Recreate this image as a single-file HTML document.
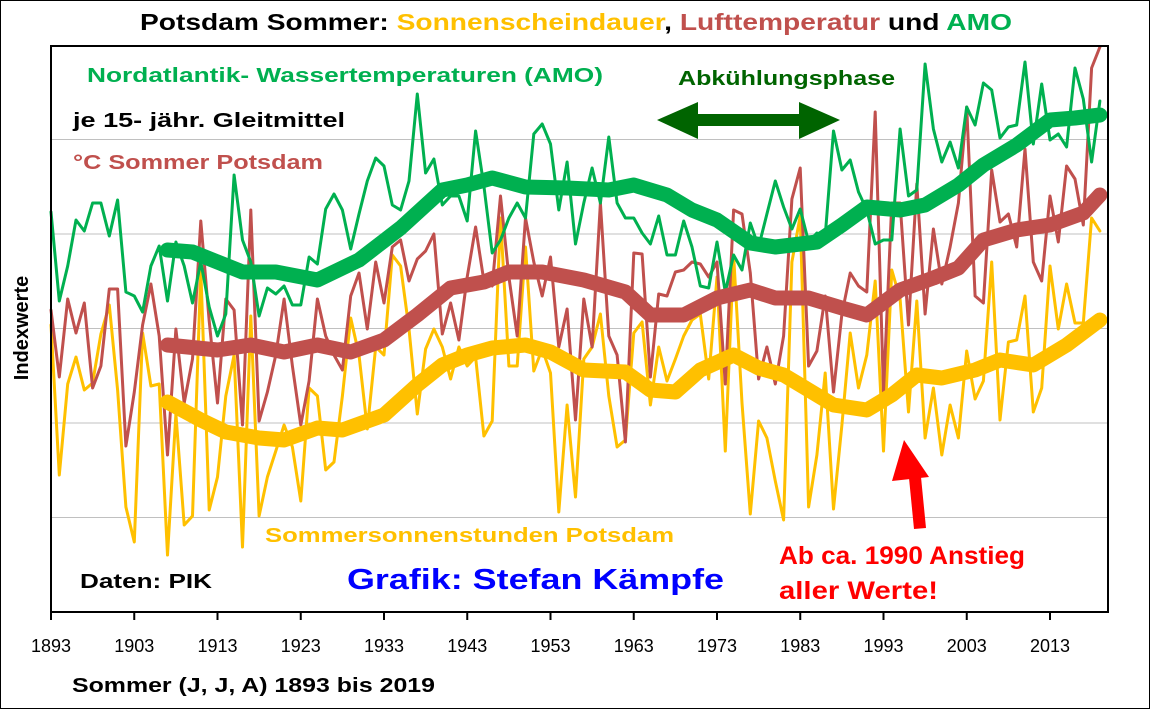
<!DOCTYPE html>
<html><head><meta charset="utf-8"><style>
body{margin:0;background:#fff;}
svg{display:block;font-family:"Liberation Sans",Arial,sans-serif;font-weight:bold;}
</style></head><body>
<svg id="chart" width="1150" height="709" viewBox="0 0 1150 709">
<rect x="0.5" y="0.5" width="1149" height="708" fill="#fff" stroke="#000" stroke-width="1"/>
<text x="140" y="30" textLength="872" lengthAdjust="spacingAndGlyphs" font-size="23"><tspan fill="#000">Potsdam Sommer: </tspan><tspan fill="#ffc000">Sonnenscheindauer</tspan><tspan fill="#000">, </tspan><tspan fill="#c0504d">Lufttemperatur</tspan><tspan fill="#000"> und </tspan><tspan fill="#00b050">AMO</tspan></text>
<g id="grid"></g>
<g id="series"></g>
<rect x="51" y="46" width="1057" height="566" fill="none" stroke="#000" stroke-width="2"/>
<g id="xaxis"></g>
<text transform="translate(28,328) rotate(-90)" text-anchor="middle" font-size="20" fill="#000">Indexwerte</text>
<text x="72" y="692" textLength="363" lengthAdjust="spacingAndGlyphs" font-size="20" fill="#000">Sommer (J, J, A) 1893 bis 2019</text>
<text x="87" y="82" textLength="516" lengthAdjust="spacingAndGlyphs" font-size="20" fill="#00b050">Nordatlantik- Wassertemperaturen (AMO)</text>
<text x="73" y="127" textLength="272" lengthAdjust="spacingAndGlyphs" font-size="20" fill="#000">je 15- jähr. Gleitmittel</text>
<text x="73" y="169" textLength="250" lengthAdjust="spacingAndGlyphs" font-size="20" fill="#c0504d">°C Sommer Potsdam</text>
<text x="678" y="85" textLength="217" lengthAdjust="spacingAndGlyphs" font-size="20" fill="#006400">Abkühlungsphase</text>
<g fill="#006400">
<rect x="690" y="114" width="115" height="12"/>
<polygon points="657,120 698,102 698,139"/>
<polygon points="840,120 799,102 799,139"/>
</g>
<text x="265" y="542" textLength="409" lengthAdjust="spacingAndGlyphs" font-size="20" fill="#ffc000">Sommersonnenstunden Potsdam</text>
<text x="80" y="588" textLength="132" lengthAdjust="spacingAndGlyphs" font-size="20" fill="#000">Daten: PIK</text>
<text x="347" y="589" textLength="377" lengthAdjust="spacingAndGlyphs" font-size="29" fill="#0000ff">Grafik: Stefan Kämpfe</text>
<text x="779" y="564" textLength="246" lengthAdjust="spacingAndGlyphs" font-size="25" fill="#ff0000">Ab ca. 1990 Anstieg</text>
<text x="779" y="599" textLength="159" lengthAdjust="spacingAndGlyphs" font-size="25" fill="#ff0000">aller Werte!</text>
<g fill="#ff0000">
<polygon points="909,478 921,477 926,528 914,529"/>
<polygon points="904,440 929,477 892,481"/>
</g>
</svg>
<script>
const years = [];
for (let yr = 1893; yr <= 2019; yr++) years.push(yr);
const tickYears = [1893,1903,1913,1923,1933,1943,1953,1963,1973,1983,1993,2003,2013];
const gridValues = [94.5,189,283.5,378,472.5];
const amoRaw = [400,311,346,392,381,409,409,376,412,320,316,300,346,366,311,370,346,309,350,305,276,298,437,372,350,296,324,318,326,307,307,355,348,403,418,402,363,398,431,454,446,407,
402,431,518,439,453,407,416,416,391,481,426,359,372,394,409,394,478,488,468,402,450,368,409,444,409,475,409,394,394,379,368,396,357,357,391,365,326,324,370,320,357,342,
389,365,398,431,405,383,403,370,379,376,481,442,452,420,402,368,372,372,483,416,422,548,483,450,470,444,505,487,529,522,474,485,487,550,468,528,472,478,465,544,513,450,511];
const tempRaw = [302,235,313,279,309,224,246,323,323,166,220,287,328,276,157,283,209,253,391,291,209,313,302,187,402,191,220,257,313,246,187,231,313,276,257,242,316,339,283,350,309,365,
372,331,353,361,378,278,309,272,335,385,331,326,416,335,276,394,350,316,355,265,303,192,313,265,409,276,257,170,359,358,235,318,316,340,342,350,348,335,350,228,402,398,
339,233,265,228,276,413,444,246,261,316,220,298,339,326,320,500,220,409,409,287,428,298,383,328,365,409,505,316,309,442,390,398,365,463,350,331,416,370,446,433,387,544,565];
const sunRaw = [287,137,228,255,222,229,278,307,222,105,70,279,226,228,57,198,87,96,342,102,135,216,257,65,296,96,135,161,187,165,111,224,216,142,150,216,294,257,183,265,257,357,
346,283,198,263,283,265,233,265,246,255,176,191,394,246,246,365,241,263,239,100,207,115,253,265,298,216,165,172,279,290,207,265,231,253,276,292,298,233,335,161,357,209,
98,191,174,131,92,350,396,105,157,239,103,187,279,224,257,331,161,342,313,200,311,174,224,157,207,174,261,213,231,350,192,270,272,316,200,224,346,283,328,289,289,394,381];
const amoSmoothYears = [1907,1910,1913,1916,1920,1925,1930,1935,1940,1943,1946,1950,1955,1960,1963,1967,1970,1973,1977,1980,1985,1988,1991,1995,1998,2002,2005,2009,2013,2016,2019];
const amoSmooth = [362,360,350,340,340,332,352,384,422,427,434,425,424,422,427,417,402,392,369,365,370,387,405,402,407,427,447,467,492,494,497];
const tempSmoothYears = [1907,1913,1917,1921,1925,1929,1933,1937,1941,1945,1948,1952,1957,1962,1965,1969,1973,1977,1980,1984,1988,1991,1995,1999,2002,2005,2009,2013,2017,2019];
const tempSmooth = [267,262,267,260,267,260,272,297,324,330,340,340,332,320,297,297,314,322,314,314,304,297,322,334,344,372,382,387,399,417];
const sunSmoothYears = [1907,1911,1914,1918,1921,1925,1928,1933,1937,1940,1943,1946,1950,1953,1957,1962,1965,1968,1971,1975,1978,1981,1984,1987,1991,1994,1997,2000,2004,2007,2011,2015,2019];
const sunSmooth = [210,192,180,174,172,184,182,197,227,247,257,264,267,260,242,240,222,220,242,257,244,237,222,207,202,217,237,234,242,252,247,267,292];

const NS = 'http://www.w3.org/2000/svg';
const X0 = 51, X1 = 1108, Y0 = 612, Y1 = 45;
const xScale = yr => X0 + (yr - 1893) * 8.325;
const yScale = v => Y0 - (v / 567) * (Y0 - Y1);
function mk(tag, attrs, parent) {
  const el = document.createElementNS(NS, tag);
  for (const k in attrs) el.setAttribute(k, attrs[k]);
  parent.appendChild(el);
  return el;
}
const grid = document.getElementById('grid');
gridValues.forEach(v => {
  const ln = mk('line', {x1: X0, x2: X1, y1: yScale(v), y2: yScale(v), stroke: '#c0c0c0', 'stroke-width': 1}, grid);
  
  
});
const xa = document.getElementById('xaxis');
tickYears.forEach(yr => {
  const t = mk('line', {x1: xScale(yr), x2: xScale(yr), y1: Y0, y2: Y0 + 8, stroke: '#000', 'stroke-width': 2}, xa);
  
  
  const tx = mk('text', {x: xScale(yr), y: 652, 'text-anchor': 'middle', 'font-size': 18, 'font-weight': 'normal', fill: '#000'}, xa);
  tx.textContent = yr;
  
  
});
const sg = document.getElementById('series');
function drawLine(xs, vs, color, width, name) {
  const pts = xs.map((yr, i) => xScale(yr).toFixed(1) + ',' + yScale(vs[i]).toFixed(1)).join(' ');
  const p = mk('polyline', {points: pts, fill: 'none', stroke: color, 'stroke-width': width, 'stroke-linejoin': 'round', 'stroke-linecap': 'round'}, sg);
  
  
}
drawLine(years, sunRaw, '#ffc000', 3, 'sunshine-annual-line');
drawLine(years, tempRaw, '#c0504d', 3, 'temperature-annual-line');
drawLine(years, amoRaw, '#00b050', 3, 'amo-annual-line');
drawLine(sunSmoothYears, sunSmooth, '#ffc000', 15, 'sunshine-15yr-mean-line');
drawLine(tempSmoothYears, tempSmooth, '#c0504d', 15, 'temperature-15yr-mean-line');
drawLine(amoSmoothYears, amoSmooth, '#00b050', 15, 'amo-15yr-mean-line');
</script>
</body></html>
